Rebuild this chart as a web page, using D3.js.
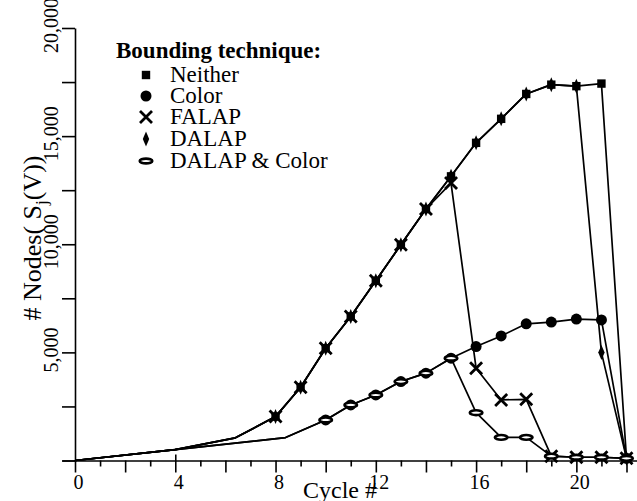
<!DOCTYPE html>
<html>
<head>
<meta charset="utf-8">
<script src="https://cdn.jsdelivr.net/npm/d3@7"></script>
<style>
  body { margin: 0; background: #fff; }
  svg { display: block; font-family: "Liberation Serif", "Times New Roman", serif; }
</style>
</head>
<body>
<svg id="chartSVG" width="637" height="501"></svg>
<script>
// lead-in segments before the first marked cycle (no markers)
const upperLeadCycles = [0, 4, 6.4];
const upperLeadNodes = [0, 500, 1050];
const lowerLeadCycles = [0, 4, 8.4];
const lowerLeadNodes = [0, 500, 1060];

// marked points, one array of cycles and one of node counts per technique
const neitherCycles = [8, 9, 10, 11, 12, 13, 14, 15, 16, 17, 18, 19, 20, 21, 22];
const neitherNodes = [2030, 3390, 5190, 6660, 8310, 9980, 11630, 13140, 14690, 15800, 16950, 17380, 17310, 17430, 100];

const dalapCycles = [8, 9, 10, 11, 12, 13, 14, 15, 16, 17, 18, 19, 20, 21, 22];
const dalapNodes = [2030, 3390, 5190, 6660, 8310, 9980, 11630, 13140, 14690, 15800, 16950, 17380, 17310, 4990, 100];

const falapCycles = [8, 9, 10, 11, 12, 13, 14, 15, 16, 17, 18, 19, 20, 21, 22];
const falapNodes = [2030, 3390, 5190, 6660, 8310, 9980, 11630, 12830, 4270, 2800, 2830, 200, 150, 150, 100];

const colorCycles = [10, 11, 12, 13, 14, 15, 16, 17, 18, 19, 20, 21, 22];
const colorNodes = [1875, 2570, 3030, 3650, 4040, 4730, 5270, 5760, 6320, 6400, 6540, 6500, 100];

const dalapColorCycles = [10, 11, 12, 13, 14, 15, 16, 17, 18, 19, 20, 21, 22];
const dalapColorNodes = [1875, 2570, 3030, 3650, 4040, 4730, 2210, 1070, 1070, 200, 150, 150, 100];

const legendLabels = ["Neither", "Color", "FALAP", "DALAP", "DALAP & Color"];
const xTickLabels = [0, 4, 8, 12, 16, 20];
const yTickLabels = [0, 5000, 10000, 15000, 20000];

const svg = d3.select("#chartSVG");

// scales
const x = d3.scaleLinear().domain([0, 22]).range([75, 626.5]);
const y = d3.scaleLinear().domain([0, 20000]).range([460.5, 28]);

// x axis: line runs a bit past both ends, a tick at every cycle
const xAxisScale = x.copy().domain([x.invert(62), x.invert(637)]).range([62, 637]);
const xAxis = d3.axisBottom(xAxisScale)
  .tickValues(d3.range(0, 23))
  .tickSizeOuter(0)
  .tickFormat(d => xTickLabels.includes(d) ? d : "");
const xg = svg.append("g").attr("transform", `translate(0,${y(0)})`).call(xAxis);
xg.select(".domain").attr("stroke-width", 1.6);
xg.selectAll(".tick line")
  .attr("stroke-width", 1.6)
  .attr("y1", d => d === 4 ? -6 : 0)
  .attr("y2", d => d % 2 === 0 ? 12 : 6);
xg.selectAll(".tick text")
  .attr("font-size", 20)
  .attr("font-family", "Liberation Serif")
  .attr("fill", "#000")
  .attr("dy", 0)
  .attr("y", 28)
  .attr("x", 3);

// y axis with rotated labels
const yAxis = d3.axisLeft(y)
  .tickValues(d3.range(0, 20001, 2500))
  .tickSize(13)
  .tickSizeOuter(0)
  .tickFormat(d => yTickLabels.includes(d) && d > 0 ? d3.format(",")(d) : "");
const yg = svg.append("g").attr("transform", `translate(${x(0)},0)`).call(yAxis);
yg.select(".domain").attr("stroke-width", 1.6);
yg.selectAll(".tick line").attr("stroke-width", 1.6);
yg.selectAll(".tick text")
  .attr("font-size", 20)
  .attr("font-family", "Liberation Serif")
  .attr("fill", "#000")
  .attr("text-anchor", "middle")
  .attr("x", null)
  .attr("dy", null)
  .attr("transform", "translate(-17,-3) rotate(-90)");

// axis titles
svg.append("text")
  .attr("x", 303).attr("y", 498)
  .attr("font-size", 24)
  .text("Cycle #");

const yTitle = svg.append("text")
  .attr("transform", "translate(41,238) rotate(-90)")
  .attr("text-anchor", "middle")
  .attr("font-size", 26);
yTitle.append("tspan").text("# Nodes( S");
yTitle.append("tspan").attr("font-size", 17).attr("dy", 6).text("j");
yTitle.append("tspan").attr("dy", -6).text("(V))");

// lines
const line = d3.line().x(d => x(d[0])).y(d => y(d[1]));
const upperLead = d3.zip(upperLeadCycles, upperLeadNodes);
const lowerLead = d3.zip(lowerLeadCycles, lowerLeadNodes);

const series = [
  { name: "Neither", lead: upperLead, pts: d3.zip(neitherCycles, neitherNodes), marker: "square" },
  { name: "Color", lead: lowerLead, pts: d3.zip(colorCycles, colorNodes), marker: "circle" },
  { name: "FALAP", lead: upperLead, pts: d3.zip(falapCycles, falapNodes), marker: "cross" },
  { name: "DALAP", lead: upperLead, pts: d3.zip(dalapCycles, dalapNodes), marker: "diamond" },
  { name: "DALAP & Color", lead: lowerLead, pts: d3.zip(dalapColorCycles, dalapColorNodes), marker: "ellipse" }
];

series.forEach(s => {
  svg.append("path")
    .attr("d", line(s.lead.concat(s.pts)))
    .attr("fill", "none")
    .attr("stroke", "#000")
    .attr("stroke-width", 1.7)
    .attr("stroke-linejoin", "round");
});

// marker drawing helper
function drawMarker(g, type) {
  if (type === "square") {
    g.append("rect").attr("x", -4.2).attr("y", -4.2).attr("width", 8.4).attr("height", 8.4).attr("fill", "#000");
  } else if (type === "circle") {
    g.append("circle").attr("r", 5.5).attr("fill", "#000");
  } else if (type === "cross") {
    g.append("path").attr("d", "M-6,-6L6,6M-6,6L6,-6")
      .attr("stroke", "#000").attr("stroke-width", 2.8).attr("fill", "none");
  } else if (type === "diamond") {
    g.append("path").attr("d", "M0,-7.5L3.2,0L0,7.5L-3.2,0Z").attr("fill", "#000");
  } else if (type === "ellipse") {
    g.append("ellipse").attr("rx", 6.3).attr("ry", 2.4)
      .attr("fill", "#fff").attr("stroke", "#000").attr("stroke-width", 2.6);
  }
}

series.forEach(s => {
  s.pts.forEach(p => {
    const g = svg.append("g").attr("transform", `translate(${x(p[0])},${y(p[1])})`);
    drawMarker(g, s.marker);
  });
});

// legend
const legend = svg.append("g");
legend.append("text")
  .attr("x", 116).attr("y", 58)
  .attr("font-size", 23)
  .attr("font-weight", "bold")
  .text("Bounding technique:");
const legendY = [82, 103, 124, 146, 168];
legendLabels.forEach((label, i) => {
  const g = legend.append("g").attr("transform", `translate(146,${legendY[i] - 7})`);
  drawMarker(g, series[i].marker);
  legend.append("text")
    .attr("x", 170).attr("y", legendY[i])
    .attr("font-size", 23)
    .text(label);
});
</script>
</body>
</html>
